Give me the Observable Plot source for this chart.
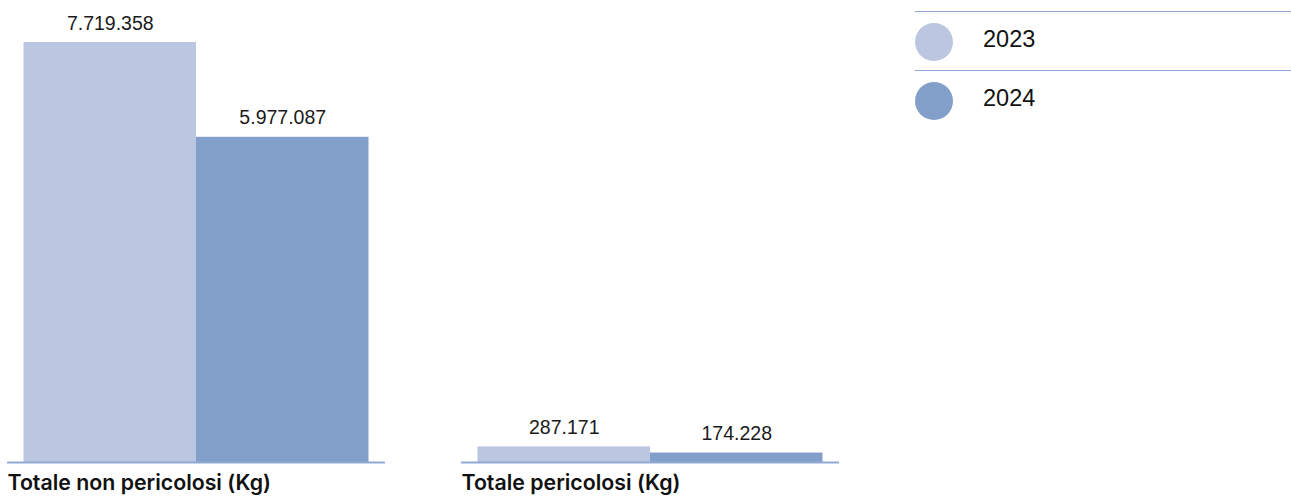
<!DOCTYPE html>
<html>
<head>
<meta charset="utf-8">
<script src="https://cdn.jsdelivr.net/npm/d3@7"></script>
<script src="https://cdn.jsdelivr.net/npm/@observablehq/plot@0.6"></script>
<style>
  html, body { margin: 0; padding: 0; background: #fff; }
  body { width: 1291px; height: 498px; position: relative; overflow: hidden; font-family: "Liberation Sans", Arial, sans-serif; }
  #chart { position: absolute; left: 0; top: 0; }
  #legend { position: absolute; left: 915px; top: 0; width: 376px; height: 130px; }
  .lg-line { position: absolute; left: 0; width: 376px; height: 0; border-top: 1.5px solid #8fa9d4; }
  .lg-dot { position: absolute; left: 0; width: 38px; height: 38px; border-radius: 50%; }
  .lg-text { position: absolute; left: 68px; font-size: 23.5px; color: #111; line-height: 1; }
</style>
</head>
<body>
<div id="chart"></div>
<div id="legend"></div>
<script>
const categories = ["Totale non pericolosi (Kg)", "Totale pericolosi (Kg)"];
const years = ["2023", "2024"];
const values2023 = [7719358, 287171];
const values2024 = [5977087, 174228];
const colors = ["#BBC7E1", "#819FC8"];

const data = categories.flatMap((c, i) => [
  {cat: c, year: years[0], value: values2023[i]},
  {cat: c, year: years[1], value: values2024[i]}
]);

const fmt = d3.formatLocale({decimal: ",", thousands: ".", grouping: [3], currency: ["€", ""]}).format(",d");

const chart = Plot.plot({
  width: 1291,
  height: 498,
  marginLeft: 7,
  marginRight: 1291 - 839,
  marginTop: 42,
  marginBottom: 36,
  style: {fontFamily: "'Liberation Sans', Arial, sans-serif", background: "transparent"},
  fx: {domain: categories, padding: 0.1674, round: false, axis: null},
  x: {domain: years, paddingInner: 0, paddingOuter: 0.0957, round: false, axis: null},
  y: {domain: [0, d3.max(values2023)], axis: null},
  color: {domain: years, range: colors},
  marks: [
    Plot.barY(data, {fx: "cat", x: "year", y: "value", fill: "year"}),
    Plot.text(data, {fx: "cat", x: "year", y: "value", text: d => fmt(d.value), lineAnchor: "bottom", dy: -13, fontSize: 19.5, fill: "#1a1a1a"}),
    Plot.ruleY([0], {stroke: "#8fa9d4", strokeWidth: 1.8}),
    Plot.text(categories, {fx: d => d, text: d => d, frameAnchor: "bottom-left", textAnchor: "start", lineAnchor: "top", dy: 12, fontSize: 21.3, fontWeight: 600, fontFamily: "Inter, sans-serif", fill: "#111"})
  ]
});
document.getElementById("chart").appendChild(chart);

const legend = document.getElementById("legend");
const lineY = [12, 71];
const dotY = [42, 101];
years.forEach((y, i) => {
  const line = document.createElement("div");
  line.className = "lg-line";
  line.style.top = (lineY[i] - 0.75) + "px";
  legend.appendChild(line);
  const dot = document.createElement("div");
  dot.className = "lg-dot";
  dot.style.top = (dotY[i] - 19) + "px";
  dot.style.background = colors[i];
  legend.appendChild(dot);
  const t = document.createElement("div");
  t.className = "lg-text";
  t.style.top = (dotY[i] - 14) + "px";
  t.textContent = y;
  legend.appendChild(t);
});
</script>
</body>
</html>
